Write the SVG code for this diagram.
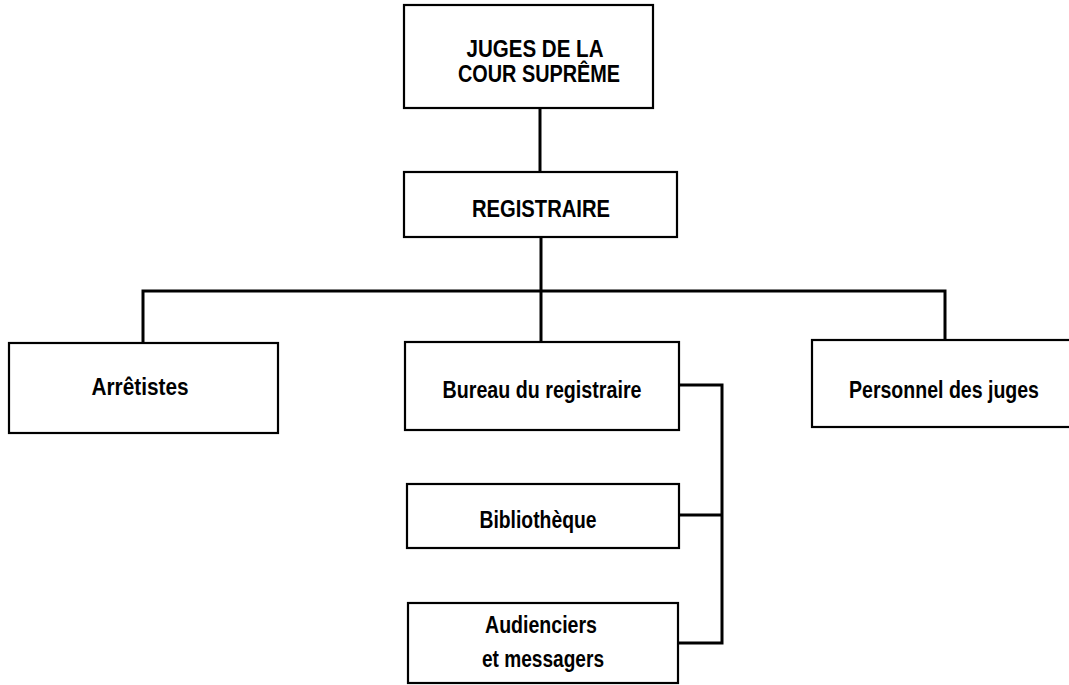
<svg xmlns="http://www.w3.org/2000/svg" width="1069" height="685" viewBox="0 0 1069 685">
  <style>
    .box { fill: #ffffff; stroke: #000000; stroke-width: 2.2; }
    .lbl { font-family: "Liberation Sans", Arial, sans-serif; font-size: 23px; font-weight: bold; fill: #000000; text-anchor: middle; }
    .wire { fill: none; stroke: #000000; stroke-width: 3; stroke-linejoin: miter; }
  </style>
  <rect x="0" y="0" width="1069" height="685" fill="#ffffff"/>

  <!-- connectors -->
  <g id="connectors">
    <path class="wire" d="M540,108 V172"/>
    <path class="wire" d="M541,237 V342"/>
    <path class="wire" d="M143,343 V291 H945 V340"/>
    <path class="wire" d="M679,385 H722 V643 H678"/>
    <path class="wire" d="M679,515 H722"/>
  </g>

  <!-- labels are set in a condensed cut by fitting each line to its width -->
  <g id="juges">
    <rect class="box" x="404" y="5" width="249" height="103"/>
    <text class="lbl" x="535" y="57" textLength="137" lengthAdjust="spacingAndGlyphs">JUGES DE LA</text>
    <text class="lbl" x="539" y="82" textLength="162" lengthAdjust="spacingAndGlyphs">COUR SUPRÊME</text>
  </g>

  <g id="registraire">
    <rect class="box" x="404" y="172" width="273" height="65"/>
    <text class="lbl" x="541" y="217" textLength="138" lengthAdjust="spacingAndGlyphs">REGISTRAIRE</text>
  </g>

  <g id="arretistes">
    <rect class="box" x="9" y="343" width="269" height="90"/>
    <text class="lbl" x="140" y="395" textLength="97" lengthAdjust="spacingAndGlyphs">Arrêtistes</text>
  </g>

  <g id="bureau">
    <rect class="box" x="405" y="342" width="274" height="88"/>
    <text class="lbl" x="542" y="398" textLength="199" lengthAdjust="spacingAndGlyphs">Bureau du registraire</text>
  </g>

  <g id="personnel">
    <rect class="box" x="812" y="340" width="262" height="87"/>
    <text class="lbl" x="944" y="398" textLength="190" lengthAdjust="spacingAndGlyphs">Personnel des juges</text>
  </g>

  <g id="bibliotheque">
    <rect class="box" x="407" y="484" width="272" height="64"/>
    <text class="lbl" x="538" y="528" textLength="117" lengthAdjust="spacingAndGlyphs">Bibliothèque</text>
  </g>

  <g id="audienciers">
    <rect class="box" x="408" y="603" width="270" height="80"/>
    <text class="lbl" x="541" y="633" textLength="112" lengthAdjust="spacingAndGlyphs">Audienciers</text>
    <text class="lbl" x="543" y="667" textLength="122" lengthAdjust="spacingAndGlyphs">et messagers</text>
  </g>
</svg>
